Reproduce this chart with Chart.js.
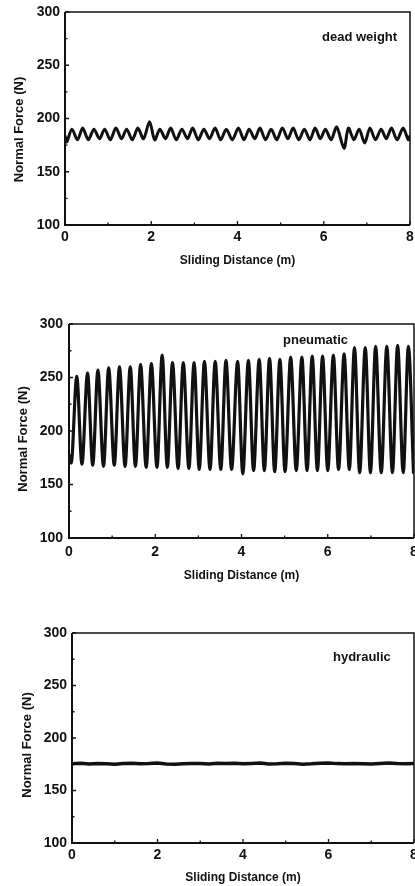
<!DOCTYPE html>
<html>
<head>
<meta charset="utf-8">
<script src="https://cdn.jsdelivr.net/npm/chart.js@4.4.1/dist/chart.umd.min.js"></script>
<style>
  body { margin: 0; background: #fff; }
  .panel { position: absolute; left: 0; width: 415px; }
</style>
</head>
<body>
<div class="panel" style="top:0;height:280px"><canvas id="c1"></canvas></div>
<div class="panel" style="top:290px;height:300px"><canvas id="c2"></canvas></div>
<div class="panel" style="top:590px;height:296px"><canvas id="c3"></canvas></div>
<script>
// dead weight: sliding distance (m) and normal force (N)
var deadX = [0, 0.04, 0.16, 0.29, 0.41, 0.54, 0.67, 0.80, 0.92, 1.05,
  1.18, 1.31, 1.43, 1.56, 1.69, 1.82, 1.96, 2.08, 2.20, 2.33,
  2.45, 2.58, 2.71, 2.84, 2.96, 3.09, 3.22, 3.35, 3.48, 3.61,
  3.74, 3.88, 4.02, 4.15, 4.27, 4.40, 4.52, 4.65, 4.78, 4.91,
  5.04, 5.17, 5.29, 5.42, 5.55, 5.68, 5.80, 5.92, 6.04, 6.17,
  6.30, 6.47, 6.57, 6.70, 6.82, 6.95, 7.07, 7.20, 7.33, 7.45,
  7.57, 7.70, 7.84, 7.96, 8.0];
var deadY = [184, 178, 190, 180, 191, 180, 190, 181, 190, 180,
  191, 181, 190, 180, 191, 181, 197, 180, 190, 181,
  191, 180, 190, 181, 191, 180, 190, 181, 191, 180,
  190, 180, 191, 180, 190, 181, 191, 180, 190, 180,
  191, 181, 191, 180, 190, 180, 191, 181, 190, 180,
  192, 172, 191, 180, 190, 177, 191, 180, 190, 181,
  191, 180, 191, 180, 184];

// pneumatic
var pneuX = [0, 0.05, 0.18, 0.30, 0.43, 0.55, 0.67, 0.80, 0.92, 1.05,
  1.17, 1.30, 1.42, 1.54, 1.66, 1.79, 1.91, 2.04, 2.16, 2.28,
  2.40, 2.53, 2.65, 2.78, 2.90, 3.02, 3.14, 3.27, 3.39, 3.52,
  3.64, 3.77, 3.91, 4.03, 4.16, 4.28, 4.41, 4.53, 4.65, 4.77,
  4.89, 5.01, 5.14, 5.27, 5.40, 5.52, 5.64, 5.76, 5.88, 6.00,
  6.13, 6.25, 6.38, 6.50, 6.62, 6.74, 6.87, 6.99, 7.11, 7.24,
  7.37, 7.50, 7.62, 7.75, 7.87, 7.99];
var pneuY = [178, 170, 251, 169, 254, 168, 257, 167, 259, 168,
  260, 167, 260, 167, 262, 166, 263, 166, 271, 166,
  264, 165, 264, 165, 264, 164, 265, 164, 265, 164,
  266, 164, 265, 160, 266, 163, 267, 163, 268, 162,
  267, 162, 269, 163, 269, 163, 270, 163, 270, 163,
  271, 164, 272, 164, 278, 161, 278, 161, 279, 161,
  279, 161, 280, 161, 279, 160];

// hydraulic
var hydX = [0, 0.2, 0.4, 0.6, 0.8, 1.0, 1.2, 1.4, 1.6, 1.8,
  2.0, 2.2, 2.4, 2.6, 2.8, 3.0, 3.2, 3.4, 3.6, 3.8,
  4.0, 4.2, 4.4, 4.6, 4.8, 5.0, 5.2, 5.4, 5.6, 5.8,
  6.0, 6.2, 6.4, 6.6, 6.8, 7.0, 7.2, 7.4, 7.6, 7.8, 8.0];
var hydY = [175.5, 176, 175.3, 175.8, 175.5, 175.1, 175.7, 175.9, 175.4, 175.6,
  176.1, 175.2, 174.9, 175.5, 175.8, 175.6, 175.3, 176, 175.7, 175.9,
  175.4, 175.8, 176.2, 175.3, 175.5, 176, 175.7, 175.1, 175.4, 175.9,
  176.3, 175.6, 175.4, 175.7, 175.5, 175.2, 175.8, 176.1, 175.6, 175.4, 175.7];

var xTicks = [0, 2, 4, 6, 8];
var xMinor = [1, 3, 5, 7];
var yTicks = [100, 150, 200, 250, 300];
var yMinor = [125, 175, 225, 275];

var INK = '#111';
var FONT = "'Liberation Sans', Arial, sans-serif";

var framePlugin = {
  id: 'frame',
  afterDraw: function (chart, args, o) {
    var ctx = chart.ctx, a = chart.chartArea, x = chart.scales.x, y = chart.scales.y;
    ctx.save();
    ctx.strokeStyle = INK;
    ctx.lineWidth = 1.5;
    ctx.beginPath();
    ctx.moveTo(a.left, a.top); ctx.lineTo(a.right, a.top); ctx.lineTo(a.right, a.bottom);
    ctx.stroke();
    ctx.lineWidth = 2;
    ctx.beginPath();
    ctx.moveTo(a.left, a.top); ctx.lineTo(a.left, a.bottom); ctx.lineTo(a.right, a.bottom);
    ctx.stroke();
    // inward ticks
    ctx.lineWidth = 1.3;
    ctx.beginPath();
    xTicks.forEach(function (v) { var p = x.getPixelForValue(v); ctx.moveTo(p, a.bottom); ctx.lineTo(p, a.bottom - 4); });
    xMinor.forEach(function (v) { var p = x.getPixelForValue(v); ctx.moveTo(p, a.bottom); ctx.lineTo(p, a.bottom - 2.5); });
    yTicks.forEach(function (v) { var p = y.getPixelForValue(v); ctx.moveTo(a.left, p); ctx.lineTo(a.left + 4, p); });
    yMinor.forEach(function (v) { var p = y.getPixelForValue(v); ctx.moveTo(a.left, p); ctx.lineTo(a.left + 2.5, p); });
    ctx.stroke();
    ctx.fillStyle = INK;
    ctx.font = 'bold 13px ' + FONT;
    ctx.textBaseline = 'middle';
    ctx.fillText(o.text, a.left + o.dx, a.top + o.dy);
    // y axis title
    ctx.translate(o.ytx, (a.top + a.bottom) / 2 + o.yty);
    ctx.rotate(-Math.PI / 2);
    ctx.textAlign = 'center';
    ctx.fillText('Normal Force (N)', 0, 0);
    ctx.restore();
  }
};

function makeChart(id, xs, ys, p) {
  var pts = xs.map(function (v, i) { return { x: v, y: ys[i] }; });
  return new Chart(document.getElementById(id), {
    type: 'line',
    data: { datasets: [{
      data: pts,
      borderColor: INK,
      borderWidth: p.lw,
      pointRadius: 0,
      tension: p.tension,
      cubicInterpolationMode: p.mono ? 'monotone' : 'default',
      fill: false
    }] },
    options: {
      responsive: true,
      maintainAspectRatio: false,
      animation: false,
      events: [],
      layout: { padding: { top: p.top, right: p.right, left: 0, bottom: p.bottom } },
      plugins: {
        legend: { display: false },
        tooltip: { enabled: false },
        frame: { text: p.label, dx: p.ldx, dy: p.ldy, ytx: p.ytx, yty: p.yty }
      },
      scales: {
        x: {
          type: 'linear', min: 0, max: 8,
          grid: { display: false, drawTicks: false },
          border: { display: false },
          ticks: { stepSize: 2, color: INK, padding: p.xpad, maxRotation: 0,
            font: { family: FONT, size: 14, weight: 'bold' } },
          title: { display: true, text: 'Sliding Distance (m)', color: INK,
            font: { family: FONT, size: 12, weight: 'bold' }, padding: { top: 0, bottom: p.xtpad } },
          afterFit: function (s) { s.height = p.xh; s.paddingLeft = 0; s.paddingRight = 0; }
        },
        y: {
          min: 100, max: 300,
          grid: { display: false, drawTicks: false },
          border: { display: false },
          ticks: { stepSize: 50, color: INK, padding: p.ypad,
            font: { family: FONT, size: 14, weight: 'bold' } },
          afterFit: function (s) { s.width = p.yw; s.paddingTop = 0; s.paddingBottom = 0; }
        }
      }
    },
    plugins: [framePlugin]
  });
}

makeChart('c1', deadX, deadY, { lw: 3, tension: 0.3, mono: false,
  top: 12, right: 5, bottom: 0, xh: 55, yw: 65, xpad: 4, ypad: 5, xtpad: 12.5,
  ytx: 19, yty: 11, label: 'dead weight', ldx: 257, ldy: 25 });
makeChart('c2', pneuX, pneuY, { lw: 3.2, tension: 0.4, mono: true,
  top: 34, right: 1, bottom: 0, xh: 52, yw: 69, xpad: 6, ypad: 6, xtpad: 7.5,
  ytx: 23, yty: 8, label: 'pneumatic', ldx: 214, ldy: 16 });
makeChart('c3', hydX, hydY, { lw: 3.5, tension: 0, mono: false,
  top: 43, right: 1, bottom: 0, xh: 43, yw: 72, xpad: 4, ypad: 5, xtpad: 1.5,
  ytx: 27, yty: 7, label: 'hydraulic', ldx: 261, ldy: 24 });
</script>
</body>
</html>
